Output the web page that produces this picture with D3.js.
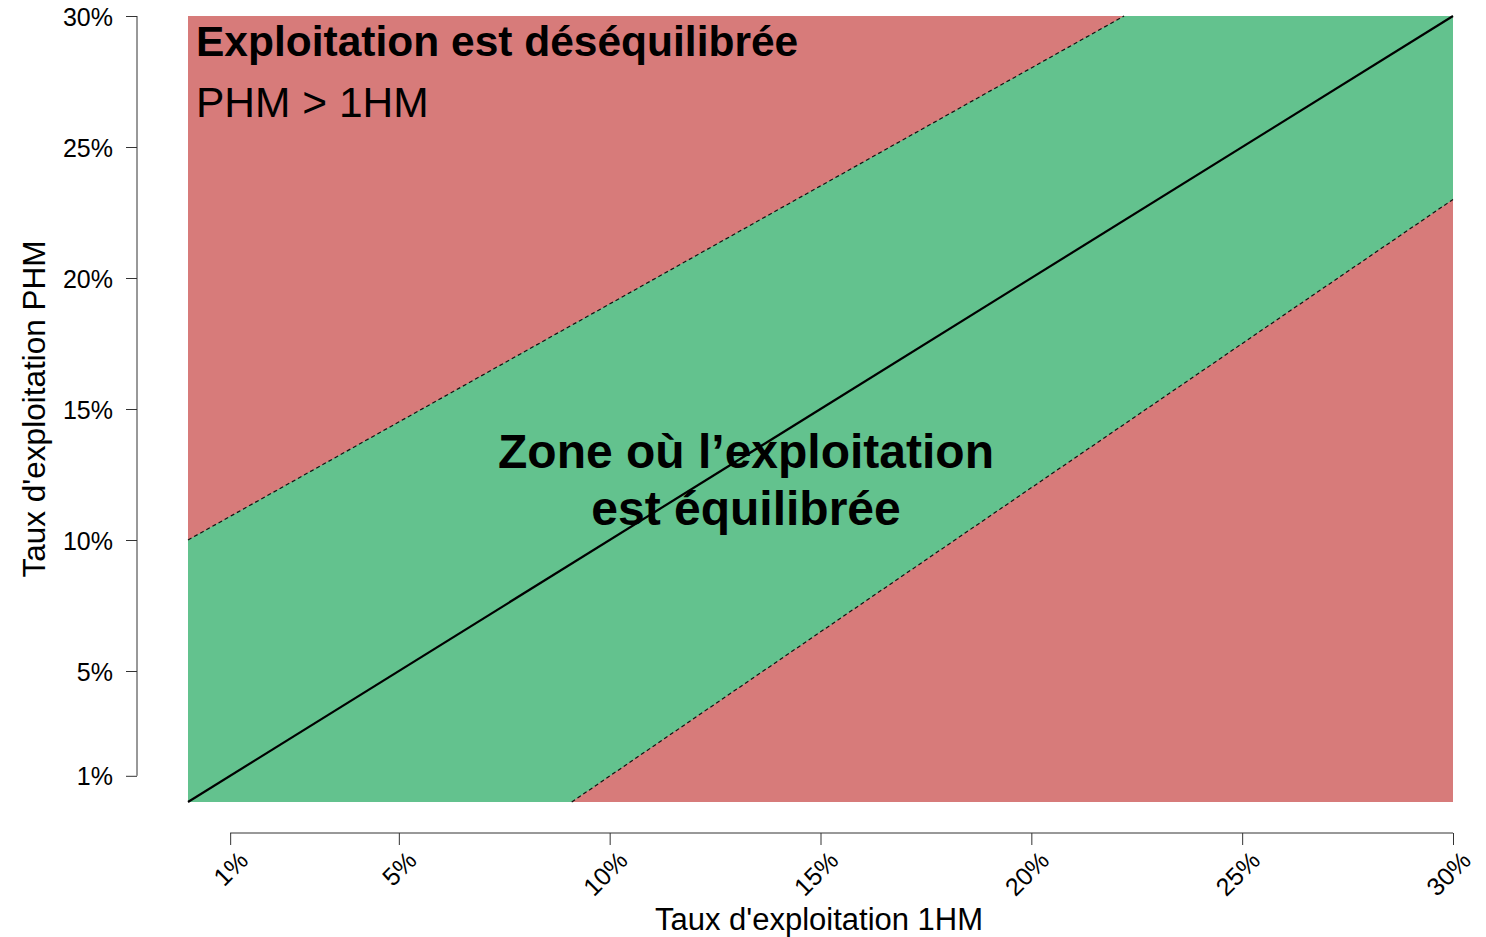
<!DOCTYPE html>
<html>
<head>
<meta charset="utf-8">
<script src="https://cdn.jsdelivr.net/npm/d3@7/dist/d3.min.js"></script>
<style>
  html, body { margin: 0; padding: 0; background: #fff; }
  svg { display: block; font-family: "Liberation Sans", Arial, sans-serif; }
</style>
</head>
<body>
<svg id="chart" width="1486" height="937"></svg>
<script>
// ---- data ----
const xTicks = [1, 5, 10, 15, 20, 25, 30];
const yTicks = [1, 5, 10, 15, 20, 25, 30];
const domainX = [0, 30];
const domainY = [0, 30];
// diagonal PHM = 1HM
const diagonal = [[0, 0], [30, 30]];
// upper boundary of balanced zone (dashed)
const upperBound = [[0, 10], [22.2, 30]];
// lower boundary of balanced zone (dashed)
const lowerBound = [[9.1, 0], [30, 23]];
const titleTop = "Exploitation est déséquilibrée";
const subTop = "PHM > 1HM";
const zoneLabel = ["Zone où l’exploitation", "est équilibrée"];
const xTitle = "Taux d'exploitation 1HM";
const yTitle = "Taux d'exploitation PHM";

// ---- layout ----
const svg = d3.select("#chart");
const x = d3.scaleLinear().domain(domainX).range([188, 1453]);
const y = d3.scaleLinear().domain(domainY).range([802, 16]);
const red = "#d77b7a", green = "#63c28e";

// background (unbalanced) zone
svg.append("rect")
  .attr("x", x(domainX[0])).attr("y", y(domainY[1]))
  .attr("width", x(domainX[1]) - x(domainX[0]))
  .attr("height", y(domainY[0]) - y(domainY[1]))
  .attr("fill", red);

// balanced zone polygon
const poly = [
  [domainX[0], domainY[0]],
  upperBound[0], upperBound[1],
  [domainX[1], domainY[1]],
  lowerBound[1], lowerBound[0]
];
svg.append("path")
  .attr("d", d3.line().x(d => x(d[0])).y(d => y(d[1]))(poly) + "Z")
  .attr("fill", green);

const line = d3.line().x(d => x(d[0])).y(d => y(d[1]));
[upperBound, lowerBound].forEach(b => {
  svg.append("path").attr("d", line(b))
    .attr("fill", "none").attr("stroke", "#111")
    .attr("stroke-width", 1.2).attr("stroke-dasharray", "4,3");
});
svg.append("path").attr("d", line(diagonal))
  .attr("fill", "none").attr("stroke", "#000").attr("stroke-width", 2.2);

// ---- axes ----
const fmt = d => d + "%";
const yAxis = svg.append("g").attr("transform", "translate(137,0)")
  .call(d3.axisLeft(y).tickValues(yTicks).tickFormat(fmt).tickSize(11).tickPadding(13));
yAxis.select(".domain").remove();
yAxis.append("line")
  .attr("x1", 0).attr("x2", 0)
  .attr("y1", y(yTicks[0])).attr("y2", y(yTicks[yTicks.length - 1]))
  .attr("stroke", "#333");
yAxis.selectAll(".tick line").attr("stroke", "#333");
yAxis.selectAll(".tick text")
  .attr("font-size", 25).attr("fill", "#000")
  .attr("font-family", "\"Liberation Sans\", Arial, sans-serif")
  .attr("dy", "0.36em");

const xAxis = svg.append("g").attr("transform", "translate(0,833)")
  .call(d3.axisBottom(x).tickValues(xTicks).tickFormat(fmt).tickSize(12));
xAxis.select(".domain").remove();
xAxis.append("line")
  .attr("y1", 0).attr("y2", 0)
  .attr("x1", x(xTicks[0])).attr("x2", x(xTicks[xTicks.length - 1]))
  .attr("stroke", "#333");
xAxis.selectAll(".tick line").attr("stroke", "#333");
xAxis.selectAll(".tick text")
  .attr("font-size", 25).attr("fill", "#000")
  .attr("font-family", "\"Liberation Sans\", Arial, sans-serif")
  .attr("text-anchor", "end")
  .attr("y", 0).attr("dy", 0)
  .attr("transform", "translate(19,29) rotate(-45)");

// axis titles
svg.append("text").attr("x", 819).attr("y", 930)
  .attr("text-anchor", "middle").attr("font-size", 31).text(xTitle);
svg.append("text")
  .attr("transform", "translate(45,409) rotate(-90)")
  .attr("text-anchor", "middle").attr("font-size", 31.5).text(yTitle);

// annotations
svg.append("text").attr("x", 196).attr("y", 56)
  .attr("font-size", 42.5).attr("font-weight", "bold").text(titleTop);
svg.append("text").attr("x", 196).attr("y", 117)
  .attr("font-size", 42.5).text(subTop);
svg.append("text").attr("x", 746).attr("y", 468)
  .attr("text-anchor", "middle").attr("font-size", 48).attr("font-weight", "bold").text(zoneLabel[0]);
svg.append("text").attr("x", 746).attr("y", 525)
  .attr("text-anchor", "middle").attr("font-size", 48).attr("font-weight", "bold").text(zoneLabel[1]);
</script>
</body>
</html>
